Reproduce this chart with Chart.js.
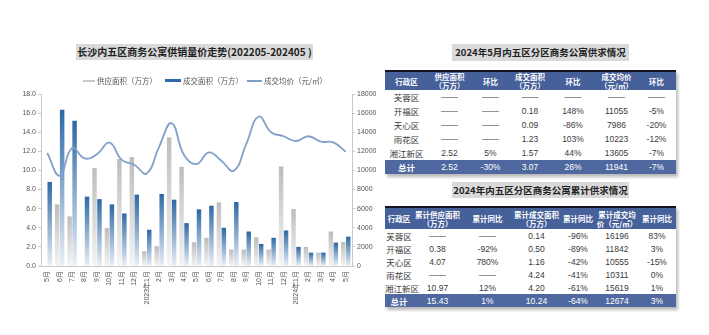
<!DOCTYPE html>
<html><head><meta charset="utf-8">
<script src="https://cdn.jsdelivr.net/npm/chart.js@4.4.1/dist/chart.umd.min.js"></script>
<style>
html,body{margin:0;padding:0;background:#fff;width:709px;height:335px;overflow:hidden;font-family:"Liberation Sans","Noto Sans CJK SC",sans-serif;}
#wrap{position:relative;width:709px;height:335px;}
#c{position:absolute;left:0;top:0;}
.tbox{position:absolute;background:#d9d9d9;font-weight:bold;font-size:9.5px;color:#222;text-align:center;white-space:nowrap;font-family:"Noto Sans CJK SC","Liberation Sans",sans-serif;}
.leg{position:absolute;top:75px;font-size:7.5px;color:#555;line-height:11px;white-space:nowrap;font-family:"Noto Sans CJK SC",sans-serif;}
.leg i{position:absolute;display:block;}
.tbl{position:absolute;left:385px;width:291px;border-collapse:collapse;table-layout:fixed;box-shadow:2px 3px 3px rgba(0,0,0,0.28);font-family:"Liberation Sans","Noto Sans CJK SC",sans-serif;}
.tbl th{background:#46609a;color:#fff;font-weight:bold;font-size:7.5px;line-height:9px;padding:0;border-top:2px solid #15151f;white-space:nowrap;font-family:"Noto Sans CJK SC",sans-serif;}
.tbl td{padding:0;text-align:center;font-size:8.5px;color:#3a3a3a;white-space:nowrap;overflow:visible;}
.tbl td.n{font-family:"Noto Sans CJK SC",sans-serif;font-size:8.5px;}
.tbl tr.tot td{background:#4f69a0;color:#fff;}
</style></head>
<body><div id="wrap">
<canvas id="c" width="380" height="335"></canvas>
<div class="tbox" style="left:76px;top:44px;width:237px;height:16px;line-height:16px;font-size:10px;">长沙内五区商务公寓供销量价走势(202205-202405 )</div>
<div class="leg" style="left:83px;"><i style="left:0;top:5px;width:12px;height:2px;background:#c9c9c9;"></i><span style="margin-left:14px;">供应面积（万方）</span></div>
<div class="leg" style="left:165px;"><i style="left:0;top:4px;width:16px;height:3px;background:#2f6aa6;"></i><span style="margin-left:18px;">成交面积（万方）</span></div>
<div class="leg" style="left:247px;"><i style="left:0;top:5px;width:15px;height:1.5px;background:#7e9dc8;"></i><span style="margin-left:17px;">成交均价（元/㎡）</span></div>
<div class="tbox" style="left:452px;top:44px;width:177px;height:17px;line-height:17px;">2024年5月内五区分区商务公寓供求情况</div>
<div class="tbox" style="left:452px;top:182px;width:177px;height:16px;line-height:16px;">2024年内五区分区商务公寓累计供求情况</div>
<div id="t1"></div><div id="t2"></div>
</div>
<script>
// ---- chart data ----
const months = ['5月','6月','7月','8月','9月','10月','11月','12月','2023年1月','2月','3月','4月','5月','6月','7月','8月','9月','10月','11月','12月','2024年1月','2月','3月','4月','5月'];
const supplyArea = [null,6.45,5.19,null,10.24,3.96,11.2,11.4,1.54,2.07,13.47,10.38,2.49,2.95,6.66,1.72,1.72,3.01,1.72,10.42,5.96,2.0,1.4,3.61,2.52];
const dealArea = [8.8,16.35,15.2,7.26,7.0,6.45,5.5,7.47,3.79,7.54,6.94,4.49,5.93,6.31,4.0,6.7,3.61,2.31,2.95,3.72,2.0,1.4,1.4,2.45,3.07];
const avgPrice = [11820,9450,12350,11260,11700,12900,11100,10600,9680,12500,14950,11610,10660,11890,11010,9960,12770,15640,14000,13580,13080,13580,13010,12940,11941];
const seriesNames = ['供应面积（万方）','成交面积（万方）','成交均价（元/㎡）'];
const leftTicks = [0,2,4,6,8,10,12,14,16,18];
const rightTicks = [0,2000,4000,6000,8000,10000,12000,14000,16000,18000];

// ---- table data ----
const t1Head = ['行政区','供应面积<br>（万方）','环比','成交面积<br>（万方）','环比','成交均价<br>（元/㎡）','环比'];
const t1Districts = ['芙蓉区','开福区','天心区','雨花区','湘江新区','总计'];
const t1Supply = ['——','——','——','——','2.52','2.52'];
const t1SupplyMoM = ['——','——','——','——','5%','-30%'];
const t1Deal = ['——','0.18','0.09','1.23','1.57','3.07'];
const t1DealMoM = ['——','148%','-86%','103%','44%','26%'];
const t1Price = ['——','11055','7986','10223','13605','11941'];
const t1PriceMoM = ['——','-5%','-20%','-12%','-7%','-7%'];

const t2Head = ['行政区','累计供应面积<br>（万方）','累计同比','累计成交面积<br>（万方）','累计同比','累计成交均<br>价（元/㎡）','累计同比'];
const t2Districts = ['芙蓉区','开福区','天心区','雨花区','湘江新区','总计'];
const t2Supply = ['——','0.38','4.07','——','10.97','15.43'];
const t2SupplyYoY = ['——','-92%','780%','——','12%','1%'];
const t2Deal = ['0.14','0.50','1.16','4.24','4.20','10.24'];
const t2DealYoY = ['-96%','-89%','-42%','-41%','-61%','-64%'];
const t2Price = ['16196','11842','10555','10311','15619','12674'];
const t2PriceYoY = ['83%','3%','-15%','0%','1%','3%'];

function buildTable(id, top, widths, headH, rowH, head, cols){
  let h = '<table class="tbl" style="top:'+top+'px"><colgroup>';
  widths.forEach(w=>h+='<col style="width:'+w+'px">');
  h += '</colgroup><tr style="height:'+headH+'px">';
  head.forEach(x=>h+='<th>'+x+'</th>');
  h += '</tr>';
  for(let r=0;r<cols[0].length;r++){
    const tot = r===cols[0].length-1;
    h += '<tr'+(tot?' class="tot"':'')+' style="height:'+rowH+'px">';
    cols.forEach((c,i)=>h+='<td'+(i===0?' class="n"':'')+(tot&&i===0?' style="font-weight:bold"':'')+'>'+c[r]+'</td>');
    h += '</tr>';
  }
  h += '</table>';
  document.getElementById(id).innerHTML = h;
}
buildTable('t1',70,[43,43,39,40,46,41,39],19,14,t1Head,[t1Districts,t1Supply,t1SupplyMoM,t1Deal,t1DealMoM,t1Price,t1PriceMoM]);
buildTable('t2',206,[28,49,51,47,36,42,38],22,13,t2Head,[t2Districts,t2Supply,t2SupplyYoY,t2Deal,t2DealYoY,t2Price,t2PriceYoY]);

function grad(c1,c2){
  return (ctx)=>{
    const chart = ctx.chart;
    if(!chart.chartArea || ctx.type!=='data' || ctx.raw==null) return c1;
    const y = chart.scales.y;
    const top = y.getPixelForValue(ctx.raw), bot = y.getPixelForValue(0);
    if(!isFinite(top)||!isFinite(bot)||top===bot) return c1;
    const g = chart.ctx.createLinearGradient(0,top,0,bot);
    g.addColorStop(0,c1); g.addColorStop(1,c2);
    return g;
  };
}
const tickFont = {family:'"Liberation Sans","Noto Sans CJK SC",sans-serif', size:7};
new Chart(document.getElementById('c'),{
  data:{
    labels:months,
    datasets:[
      {type:'bar',label:seriesNames[0],data:supplyArea,yAxisID:'y',order:2,
       backgroundColor:grad('#bdbdbd','#f4f4f4'),barPercentage:0.9,categoryPercentage:0.8},
      {type:'bar',label:seriesNames[1],data:dealArea,yAxisID:'y',order:2,
       backgroundColor:grad('#2c68a4','#e9eff6'),barPercentage:0.9,categoryPercentage:0.8},
      {type:'line',label:seriesNames[2],data:avgPrice,yAxisID:'y1',order:1,
       borderColor:'#82a0c9',borderWidth:1.8,pointRadius:0,tension:0.45,fill:false}
    ]
  },
  options:{
    responsive:false,animation:false,
    layout:{padding:{left:0,right:0,top:94,bottom:19}},
    plugins:{legend:{display:false},tooltip:{enabled:false}},
    scales:{
      x:{grid:{display:false,drawTicks:false},border:{display:true,color:'#c8c8c8'},
         ticks:{font:tickFont,color:'#555',minRotation:90,maxRotation:90,padding:5,autoSkip:false},
         afterFit:s=>{s.height=50;}},
      y:{position:'left',min:0,max:18,
         afterBuildTicks:s=>{s.ticks=leftTicks.map(v=>({value:v}));},
         grid:{drawOnChartArea:false,drawTicks:true,tickLength:3,color:'#c8c8c8'},
         border:{display:true,color:'#c8c8c8'},
         ticks:{font:tickFont,color:'#555',padding:2,callback:v=>Number(v).toFixed(1)},
         afterFit:s=>{s.width=41;}},
      y1:{position:'right',min:0,max:18000,
         afterBuildTicks:s=>{s.ticks=rightTicks.map(v=>({value:v}));},
         grid:{drawOnChartArea:false,drawTicks:true,tickLength:3,color:'#c8c8c8'},
         border:{display:true,color:'#c8c8c8'},
         ticks:{font:tickFont,color:'#555',padding:2,callback:v=>String(v)},
         afterFit:s=>{s.width=28;}}
    }
  }
});
</script>
</body></html>
